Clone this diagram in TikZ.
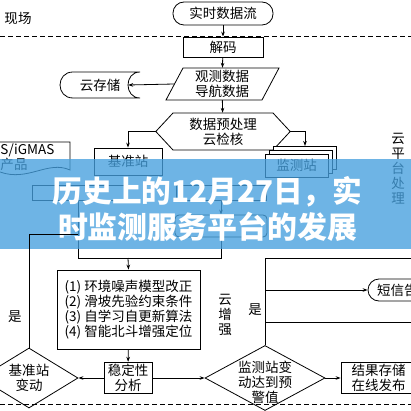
\documentclass[tikz,border=0pt]{standalone}
\usepackage{graphicx}
\usepackage{fontspec}
\setmainfont{Noto Sans CJK SC}
\usetikzlibrary{arrows.meta,shapes.geometric}
\newcommand\dfont{\fontsize{13.5}{15}\selectfont}
\definecolor{bandblue}{RGB}{70,160,222}
\tikzset{
  >={Stealth[length=5pt,width=3.6pt]},
  conn/.style={line width=0.8pt},
  flow/.style={->,line width=0.8pt},
  sepline/.style={line width=0.8pt,dash pattern=on 5pt off 3pt},
  txt/.style={font=\dfont,inner sep=0pt,align=center},
  procbox/.style={draw,line width=0.8pt,inner sep=2pt,font=\dfont,align=center},
  term/.style={procbox,rounded corners=11pt,minimum height=23pt},
  decide/.style={diamond,draw,line width=0.8pt,inner sep=0pt},
  title/.style={font=\fontsize{30}{36}\selectfont\bfseries,text=white,
    align=center,inner sep=0pt},
}

\begin{document}
\begin{tikzpicture}[x=1pt,y=-1pt]
  \useasboundingbox (0,0) rectangle (411,411);
  \clip (0,0) rectangle (411,411);
  \fill[white] (0,0) rectangle (411,411);

  % field side
  \node[txt] (site) at (18,18) {现场};
  \node[term,minimum width=100pt] (src) at (223,13.5) {实时数据流};
  \draw[sepline] (0,36) -- (411,36);
  \node[procbox,minimum width=80pt,minimum height=20pt] (dec) at (223,47) {解码};
  \node[txt,minimum width=95pt,minimum height=32pt] (obs) at (222,84) {观测数据\\导航数据};
  \draw[conn] (183,68) -- (279,68) -- (262,100) -- (166,100) -- cycle;
  \node[txt,minimum width=56pt] (store) at (100,85) {云存储};
  \draw[conn] (73,72) .. controls (55.7,72) and (55.7,98) .. (73,98) -- (140,98)
    .. controls (124,98) and (124,72) .. (140,72) -- cycle;
  \node[txt,minimum width=134pt,minimum height=37pt] (prep) at (223,131.5) {数据预处理\\云检核};
  \draw[conn] (prep.west) -- (173,113) -- (273,113) -- (prep.east)
    -- (273,150) -- (173,150) -- cycle;

  \draw[flow] (src) -- (dec);
  \draw[flow] (dec) -- (obs);
  \draw[flow] (obs.west) -- (store.east);
  \draw[flow] (obs) -- (prep);

  % stations
  \node[procbox,minimum width=68pt,minimum height=27pt] (base) at (128,161.5) {基准站};
  \foreach \k in {2,1} {
    \node[procbox,fill=white,minimum width=63pt,minimum height=23pt]
      (mon\k) at ({296.5+4*\k},{165.5-4*\k}) {};
  }
  \node[procbox,fill=white,minimum width=63pt,minimum height=23pt] (mon) at (296.5,165.5) {监测站};
  \coordinate (monin) at (305,146);
  \draw[flow] (prep.west) -| (base.north);
  \draw[flow] (prep.east) -| (monin);

  \draw[conn] (-30,142) -- (70,142) -- (70,170) .. controls (48,160) and (28,182) .. (0,172) -- (-30,172);
  \node[txt] (prod) at (14,157) {GNSS/iGMAS\\产品};
  \node[txt] (cloud) at (398,169) {云\\平\\台\\处\\理};

  % correction layer
  \node[procbox,minimum width=92pt,minimum height=15pt] (gnssA) at (78,193) {};
  \node[procbox,minimum width=90pt,minimum height=15pt] (gnssB) at (221,193) {};
  \node[procbox,rounded corners=4pt,minimum width=92pt,minimum height=22pt] (comp) at (221,226) {};
  \coordinate (join) at (128,258);
  \coordinate (back) at (78,234);
  \draw[flow] (gnssB) -- (comp);
  \draw[conn] (gnssA.south) |- (comp.south |- join) -- (comp.south);

  % band
  \fill[bandblue,opacity=0.78] (0,159) rectangle (411,249);
  \node[title] (head) at (207.5,209)
    {\resizebox{309pt}{\height}{历史上的12月27日，实}\\
     \resizebox{299pt}{\height}{时监测服务平台的发展}};

  % analysis
  \node[procbox,align=left,minimum width=143pt,minimum height=79pt] (steps) at (128.5,309.5)
    {(1) 环境噪声模型改正\\(2) 滑坡先验约束条件\\(3) 自学习自更新算法\\(4) 智能北斗增强定位};
  \node[procbox,minimum width=48pt,minimum height=29pt] (stab) at (128,378) {稳定性\\分析};
  \node[decide,minimum width=98pt,minimum height=60pt] (basechg) at (29,378) {};
  \node[txt] (basechgtxt) at (29,378) {基准站\\变动};
  \node[decide,minimum width=120pt,minimum height=65pt] (warn) at (265,378) {};
  \node[txt] (warntxt) at (265,382) {监测站变\\动达到预\\警值};
  \node[procbox,minimum width=75pt,minimum height=30pt] (result) at (378.5,378) {结果存储\\在线发布};
  \node[term,minimum width=72pt,minimum height=22pt] (sms) at (404,290) {短信告警};
  \node[txt] (yes1) at (15,317) {是};
  \node[txt] (yes2) at (255,310) {是};
  \node[txt] (enh) at (225,315) {云\\增\\强};
  \coordinate (outA) at (415,258);
  \coordinate (outC) at (415,322);

  \draw[flow] (join) -- (steps.north);
  \draw[flow] (steps) -- (stab);
  \draw[flow] (stab) -- (basechg.east);
  \draw[flow] (stab) -- (warn.west);
  \draw[flow] (warn.east) -- (result);
  \draw[conn] (basechg.north) |- (back);
  \draw[conn] (warn.north) |- (outA);
  \draw[conn] (warn.north |- outC) -- (outC);
  \draw[flow] (warn.north |- sms) -- (sms.west);

  \draw[sepline] (0,404) -- (411,404);
\end{tikzpicture}
\end{document}
